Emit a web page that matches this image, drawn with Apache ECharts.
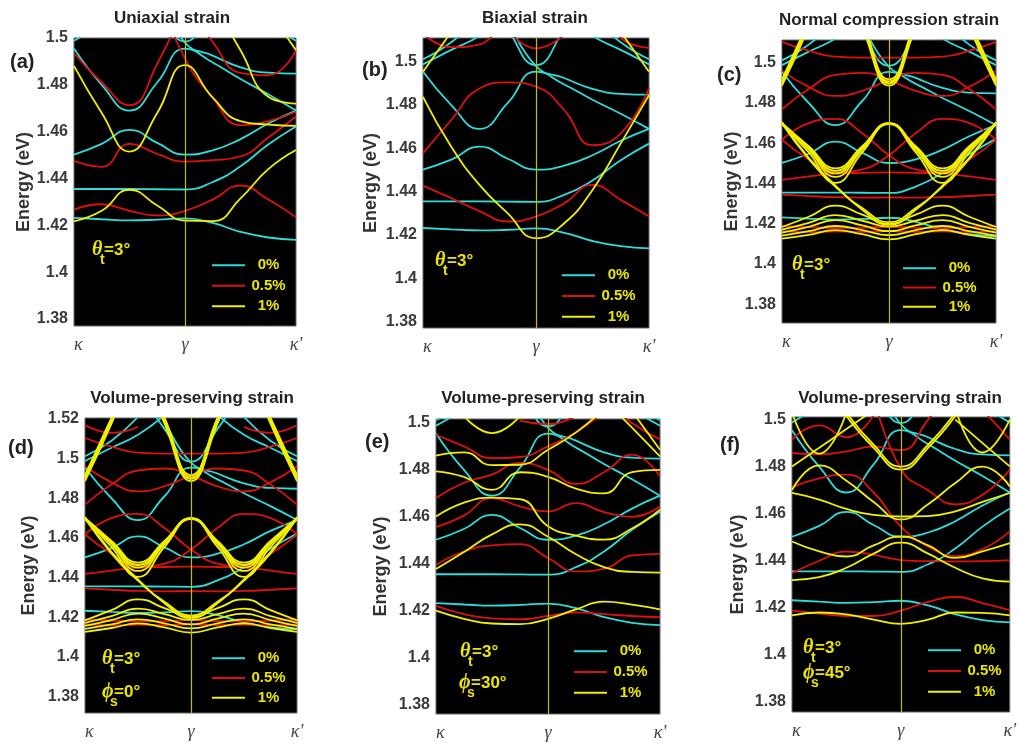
<!DOCTYPE html>
<html><head><meta charset="utf-8">
<script src="https://cdn.jsdelivr.net/npm/echarts@6/dist/echarts.min.js"></script>
<style>html,body{margin:0;padding:0;background:#fff;}#c{width:1019px;height:744px;}</style>
</head><body><div id="c"></div>
<script>
// k-path sample positions (kappa=0, gamma=0.5, kappa'=1)
const kPath = [0, 0.125, 0.25, 0.375, 0.5, 0.625, 0.75, 0.875, 1];
const kTickLabels = {0: 'κ', 0.5: 'γ', 1: "κ'"};
const strainNames = ['0%', '0.5%', '1%'];
const panelTitles = ['Uniaxial strain', 'Biaxial strain', 'Normal compression strain',
  'Volume-preserving strain', 'Volume-preserving strain', 'Volume-preserving strain'];
const panelTags = ['(a)', '(b)', '(c)', '(d)', '(e)', '(f)'];
const phiLabels = [null, null, null, '=0°', '=30°', '=45°'];
const _ = null;

// 0% strain (identical in every panel)
const bands0 = [
  [1.4232, 1.4226, 1.4221, 1.4224, 1.4230, 1.4210, 1.4172, 1.4148, 1.4138],
  [1.4355, 1.4355, 1.4355, 1.4354, 1.4353, 1.4385, 1.4452, 1.4545, 1.4622],
  [1.4502, 1.4548, 1.4608, 1.4552, 1.4502, 1.4520, 1.4568, 1.4635, 1.4690],
  [1.4955, 1.4800, 1.4690, 1.4810, 1.4955, 1.4895, 1.4825, 1.4760, 1.4690],
  [_, _, _, 1.5200, 1.4980, 1.4925, 1.4875, 1.4852, 1.4848],
  [1.4988, 1.5055, 1.5120, 1.5220, _, _, _, _, _],
  [1.5012, 1.5090, 1.5210, _, _, _, _, _, _],
  [_, _, _, _, _, 1.5220, 1.5120, 1.5055, 1.4988],
  [_, _, _, _, _, _, 1.5210, 1.5090, 1.5012],
  [_, _, 1.5350, 1.5150, 1.4985, 1.5150, 1.5350, _, _]
];

// (a) uniaxial
const uni05 = [
  [1.4267, 1.4290, 1.4262, 1.4242, 1.4262, 1.4310, 1.4370, 1.4310, 1.4235],
  [1.4475, 1.4450, 1.4548, 1.4505, 1.4472, 1.4478, 1.4494, 1.4575, 1.4665],
  [1.4935, 1.4810, 1.4713, 1.4890, 1.5150, _, _, _, _],
  [_, _, _, 1.5200, 1.4912, 1.4745, 1.4628, 1.4645, 1.4685],
  [_, _, _, _, 1.5150, 1.4983, 1.4851, 1.4841, 1.4948]
];
const uni1 = [
  [1.4217, 1.4262, 1.4352, 1.4285, 1.4220, 1.4218, 1.4315, 1.4440, 1.4522],
  [1.4881, 1.4680, 1.4515, 1.4680, 1.4884, 1.4745, 1.4645, 1.4630, 1.4625],
  [_, _, _, _, _, 1.5150, 1.4948, 1.4749, 1.4720],
  [_, _, _, _, _, _, _, 1.5120, 1.4948]
];

// (b) biaxial
const bi05 = [
  [1.4428, 1.4370, 1.4310, 1.4262, 1.4285, 1.4346, 1.4431, 1.4362, 1.4285],
  [1.4577, 1.4731, 1.4877, 1.4905, 1.4885, 1.4777, 1.4615, 1.4669, 1.4877],
  [1.5130, 1.5068, 1.5080, 1.5250, _, _, _, _, _],
  [_, _, _, 1.5150, 1.5062, 1.5125, _, _, _],
  [_, _, _, _, _, _, 1.5300, 1.5110, 1.5065]
];
const bi1 = [
  [1.4838, 1.4608, 1.4431, 1.4300, 1.4185, 1.4254, 1.4408, 1.4623, 1.4846],
  [1.4954, 1.5138, _, _, _, _, _, _, _],
  [_, _, _, _, _, _, _, 1.5138, 1.4954]
];

// (c) normal compression; (d) volume-preserving phi=0 shows the same bands
const norm05 = [
  [1.4188, 1.4183, 1.4178, 1.4180, 1.4185, 1.4180, 1.4178, 1.4183, 1.4188],
  [1.4163, 1.4158, 1.4162, 1.4160, 1.4163, 1.4160, 1.4162, 1.4158, 1.4163],
  [1.4345, 1.4338, 1.4332, 1.4330, 1.4331, 1.4330, 1.4332, 1.4338, 1.4345],
  [1.4418, 1.4435, 1.4450, 1.4453, 1.4455, 1.4453, 1.4450, 1.4435, 1.4418],
  [1.4617, 1.4700, 1.4721, 1.4650, 1.4541, 1.4470, 1.4455, 1.4520, 1.4617],
  [1.4617, 1.4520, 1.4455, 1.4470, 1.4541, 1.4650, 1.4721, 1.4700, 1.4617],
  [1.4768, 1.4869, 1.4940, 1.4950, 1.4914, 1.4860, 1.4835, 1.4880, 1.4961],
  [1.4961, 1.4880, 1.4835, 1.4860, 1.4914, 1.4950, 1.4940, 1.4869, 1.4768],
  [1.5104, 1.5060, 1.5030, 1.5025, 1.5025, 1.5025, 1.5030, 1.5060, 1.5104],
  [1.5170, 1.5130, 1.5160, _, _, _, 1.5160, 1.5130, 1.5170]
];
const norm1 = [
  [1.4184, 1.4235, 1.4290, 1.4245, 1.4200, 1.4245, 1.4290, 1.4235, 1.4184],
  [1.4171, 1.4205, 1.4243, 1.4215, 1.4186, 1.4215, 1.4243, 1.4205, 1.4171],
  [1.4156, 1.4185, 1.4218, 1.4192, 1.4163, 1.4192, 1.4218, 1.4185, 1.4156],
  [1.4141, 1.4163, 1.4189, 1.4168, 1.4143, 1.4168, 1.4189, 1.4163, 1.4141],
  [1.4126, 1.4145, 1.4168, 1.4148, 1.4122, 1.4148, 1.4168, 1.4145, 1.4126],
  [1.4705, 1.4528, 1.4390, 1.4270, 1.4195, 1.4270, 1.4390, 1.4528, 1.4705],
  [1.4698, 1.4522, 1.4384, 1.4278, 1.4208, 1.4278, 1.4384, 1.4522, 1.4698],
  [1.4700, 1.4585, 1.4475, 1.4585, 1.4700, 1.4585, 1.4475, 1.4585, 1.4700],
  [1.4700, 1.4580, 1.4463, 1.4580, 1.4700, 1.4580, 1.4463, 1.4580, 1.4700],
  [1.4698, 1.4575, 1.4450, 1.4575, 1.4698, 1.4575, 1.4450, 1.4575, 1.4698],
  [1.4697, 1.4568, 1.4433, 1.4568, 1.4697, 1.4568, 1.4433, 1.4568, 1.4697],
  [1.4695, 1.4555, 1.4403, 1.4555, 1.4695, 1.4555, 1.4403, 1.4555, 1.4695],
  [1.4917, 1.5207, 1.5500, 1.5207, 1.4917, 1.5207, 1.5500, 1.5207, 1.4917],
  [1.4906, 1.5196, 1.5500, 1.5196, 1.4906, 1.5196, 1.5500, 1.5196, 1.4906],
  [1.4897, 1.5187, 1.5500, 1.5187, 1.4897, 1.5187, 1.5500, 1.5187, 1.4897],
  [1.4886, 1.5176, 1.5500, 1.5176, 1.4886, 1.5176, 1.5500, 1.5176, 1.4886]
];

// (e) volume-preserving phi=30
const vp30_05 = [
  [1.4220, 1.4185, 1.4167, 1.4163, 1.4177, 1.4192, 1.4185, 1.4177, 1.4172],
  [1.4395, 1.4452, 1.4478, 1.4483, 1.4424, 1.4367, 1.4378, 1.4435, 1.4442],
  [1.4556, 1.4605, 1.4680, 1.4644, 1.4623, 1.4658, 1.4620, 1.4600, 1.4644],
  [1.4680, 1.4745, 1.4780, 1.4830, 1.4800, 1.4740, 1.4790, 1.4865, 1.4772],
  [1.4950, 1.4900, 1.4850, 1.4855, 1.4900, 1.4960, 1.5050, _, _],
  [_, _, _, _, _, _, 1.5100, 1.5000, 1.4930],
  [_, _, _, 1.5010, 1.4995, 1.5030, _, _, _]
];
const vp30_1 = [
  [1.4200, 1.4165, 1.4145, 1.4142, 1.4165, 1.4205, 1.4238, 1.4225, 1.4205],
  [1.4377, 1.4450, 1.4525, 1.4568, 1.4515, 1.4440, 1.4385, 1.4365, 1.4362],
  [1.4601, 1.4660, 1.4682, 1.4675, 1.4560, 1.4520, 1.4503, 1.4550, 1.4630],
  [1.4794, 1.4770, 1.4715, 1.4790, 1.4770, 1.4720, 1.4700, 1.4790, 1.4800],
  [1.4861, 1.4875, 1.4820, 1.4822, 1.4886, 1.4960, 1.5060, _, _],
  [_, 1.5030, 1.4957, 1.5030, _, _, _, _, _],
  [_, _, _, _, _, _, 1.5100, 1.4980, 1.4858],
  [_, _, _, _, _, _, _, 1.5050, 1.4886]
];

// (f) volume-preserving phi=45
const vp45_05 = [
  [1.4188, 1.4175, 1.4165, 1.4165, 1.4188, 1.4225, 1.4247, 1.4220, 1.4190],
  [1.4347, 1.4400, 1.4439, 1.4425, 1.4403, 1.4398, 1.4397, 1.4398, 1.4403],
  [1.4713, 1.4750, 1.4766, 1.4690, 1.4545, 1.4460, 1.4420, 1.4450, 1.4525],
  [_, _, _, 1.5100, 1.4790, 1.4700, 1.4640, 1.4680, 1.4787],
  [1.4858, 1.4852, 1.4865, 1.4885, 1.4870, 1.5000, 1.5150, _, _],
  [1.4915, 1.4975, 1.4925, 1.5020, _, _, _, _, _],
  [_, _, _, _, _, _, 1.5150, 1.5040, 1.4915]
];
const vp45_1 = [
  [1.4168, 1.4180, 1.4172, 1.4150, 1.4132, 1.4150, 1.4180, 1.4178, 1.4168],
  [1.4318, 1.4330, 1.4370, 1.4430, 1.4477, 1.4430, 1.4370, 1.4325, 1.4311],
  [1.4482, 1.4440, 1.4418, 1.4465, 1.4503, 1.4465, 1.4412, 1.4440, 1.4475],
  [1.4688, 1.4660, 1.4620, 1.4595, 1.4588, 1.4590, 1.4610, 1.4650, 1.4688],
  [1.4700, 1.4805, 1.4740, 1.4650, 1.4575, 1.4640, 1.4730, 1.4800, 1.4716],
  [_, _, 1.5030, 1.4893, 1.4800, 1.4893, 1.5030, _, _],
  [_, _, 1.5015, 1.4880, 1.4787, 1.4880, 1.5015, _, _],
  [1.4801, 1.4880, 1.4960, 1.5040, _, _, _, _, _],
  [1.5030, 1.4855, 1.5030, _, _, _, _, _, _],
  [_, _, _, _, _, _, 1.5050, 1.4860, 1.5000],
  [_, _, _, _, _, _, 1.5000, 1.4900, 1.4801]
];

const strainSets = [
  [uni05, uni1], [bi05, bi1], [norm05, norm1], [norm05, norm1], [vp30_05, vp30_1], [vp45_05, vp45_1]
];

// ---------- layout ----------
const L = [
  {g: {left: 74, top: 38, width: 222, height: 288}, y: [1.377, 1.5], showMax: true, nameGap: 40,
   title: [172, 10], tag: [10, 62], theta: [92, 250], phi: null, leg: [207, 252, 4]},
  {g: {left: 423, top: 38, width: 226, height: 290}, y: [1.377, 1.511], showMax: false, nameGap: 43,
   title: [535, 10], tag: [362, 70], theta: [435, 261], phi: null, leg: [557, 262, 4.3]},
  {g: {left: 782, top: 40, width: 214, height: 283}, y: [1.3707, 1.5113], showMax: false, nameGap: 41,
   title: [889, 12], tag: [717, 75], theta: [792, 265], phi: null, leg: [898, 255, 2.7]},
  {g: {left: 85, top: 418, width: 212, height: 295}, y: [1.3716, 1.5205], showMax: false, nameGap: 47,
   title: [192, 390], tag: [8, 448], theta: [102, 659], phi: [102, 692], leg: [207, 645, 3.2]},
  {g: {left: 436, top: 419, width: 224, height: 295}, y: [1.3759, 1.5017], showMax: false, nameGap: 46,
   title: [543, 390], tag: [365, 442], theta: [460, 652], phi: [459, 683], leg: [569, 638, 4.3]},
  {g: {left: 792, top: 417, width: 221, height: 295}, y: [1.3757, 1.5011], showMax: false, nameGap: 45,
   title: [900, 390], tag: [720, 445], theta: [803, 648], phi: [803, 673], leg: [923, 637, 4.3]}
];

const CYAN = '#2fdcdc', RED = '#dd1010', YEL = '#f2f000', TXTY = '#ebe600';
const sansB = "'Liberation Sans', Arial, sans-serif";

const grid = [], xAxis = [], yAxis = [], series = [], title = [], legend = [], graphic = [];

function addBands(i, name, color, bands, z) {
  bands.forEach(b => {
    series.push({
      type: 'line', name, xAxisIndex: i, yAxisIndex: i, smooth: 0.5,
      symbol: 'none', showSymbol: false, clip: true, silent: true, z,
      lineStyle: {color, width: 1.8}, itemStyle: {color},
      data: kPath.map((x, k) => [x, b[k]])
    });
  });
}

L.forEach((p, i) => {
  grid.push(Object.assign({show: true, backgroundColor: '#000', borderColor: '#666', borderWidth: 1}, p.g));
  xAxis.push({
    type: 'value', gridIndex: i, min: 0, max: 1, interval: 0.5,
    axisLine: {show: false}, axisTick: {show: false}, splitLine: {show: false},
    axisLabel: {formatter: v => kTickLabels[v] || '', fontFamily: "'Liberation Serif', 'DejaVu Serif', serif",
      fontStyle: 'italic', fontSize: 18, color: '#444', margin: 10, alignMinLabel: 'left'}
  });
  yAxis.push({
    type: 'value', gridIndex: i, min: p.y[0], max: p.y[1], splitNumber: 7,
    name: 'Energy (eV)', nameLocation: 'middle', nameRotate: 90, nameGap: p.nameGap,
    nameTextStyle: {fontFamily: sansB, fontWeight: 'bold', fontSize: 18, color: '#333'},
    axisLine: {show: false}, axisTick: {show: false}, splitLine: {show: false},
    axisLabel: {showMinLabel: false, showMaxLabel: p.showMax, margin: 6,
      fontFamily: "'Liberation Sans Narrow', 'Liberation Sans', Arial, sans-serif",
      fontWeight: 'bold', fontSize: 16, color: '#3a3a3a'}
  });
  title.push({text: panelTitles[i], left: p.title[0], top: p.title[1], textAlign: 'center', padding: 0,
    textStyle: {fontFamily: sansB, fontWeight: 'bold', fontSize: 17, color: '#222'}});
  legend.push({
    orient: 'vertical', left: p.leg[0], top: p.leg[1], itemGap: p.leg[2], itemWidth: 33, itemHeight: 2,
    icon: 'rect', selectedMode: false, data: strainNames,
    formatter: n => '{c|' + n + '}',
    textStyle: {color: TXTY, fontFamily: sansB, fontWeight: 'bold', fontSize: 15, lineHeight: 16.5,
      rich: {c: {width: 37, align: 'center', color: TXTY, fontFamily: sansB, fontWeight: 'bold', fontSize: 15, lineHeight: 16.5}}}
  });
  // gamma guide line drawn by the library at x = 0.5
  series.push({type: 'line', xAxisIndex: i, yAxisIndex: i, data: [], silent: true, z: 5,
    markLine: {silent: true, symbol: 'none', label: {show: false}, animation: false,
      lineStyle: {color: '#c4bd00', width: 1.2, type: 'solid', opacity: 1}, data: [{xAxis: 0.5}]}});
  addBands(i, '0%', CYAN, bands0, 2);
  addBands(i, '0.5%', RED, strainSets[i][0], 3);
  addBands(i, '1%', YEL, strainSets[i][1], 4);

  graphic.push({type: 'text', x: p.tag[0], y: p.tag[1], style: {text: panelTags[i], fill: '#222',
    font: "bold 20px 'Liberation Sans', Arial, sans-serif", verticalAlign: 'middle', align: 'left'}});
  const addSym = (pos, sym, sub, rest) => {
    graphic.push({type: 'text', x: pos[0], y: pos[1], z: 100, style: {text: sym, fill: TXTY,
      font: "italic bold 20px 'Liberation Serif', 'DejaVu Serif', serif", verticalAlign: 'middle', align: 'left'}});
    graphic.push({type: 'text', x: pos[0] + 8, y: pos[1] + 10, z: 100, style: {text: sub, fill: TXTY,
      font: "bold 14px 'Liberation Sans', Arial, sans-serif", verticalAlign: 'middle', align: 'left'}});
    graphic.push({type: 'text', x: pos[0] + 12, y: pos[1], z: 100, style: {text: rest, fill: TXTY,
      font: "bold 17px 'Liberation Sans', Arial, sans-serif", verticalAlign: 'middle', align: 'left'}});
  };
  addSym(p.theta, 'θ', 't', '=3°');
  if (p.phi) addSym(p.phi, 'ϕ', 's', phiLabels[i]);
});

const chart = echarts.init(document.getElementById('c'), null, {width: 1019, height: 744});
chart.setOption({animation: false, backgroundColor: '#fff', grid, xAxis, yAxis, series, title, legend, graphic});
</script></body></html>
